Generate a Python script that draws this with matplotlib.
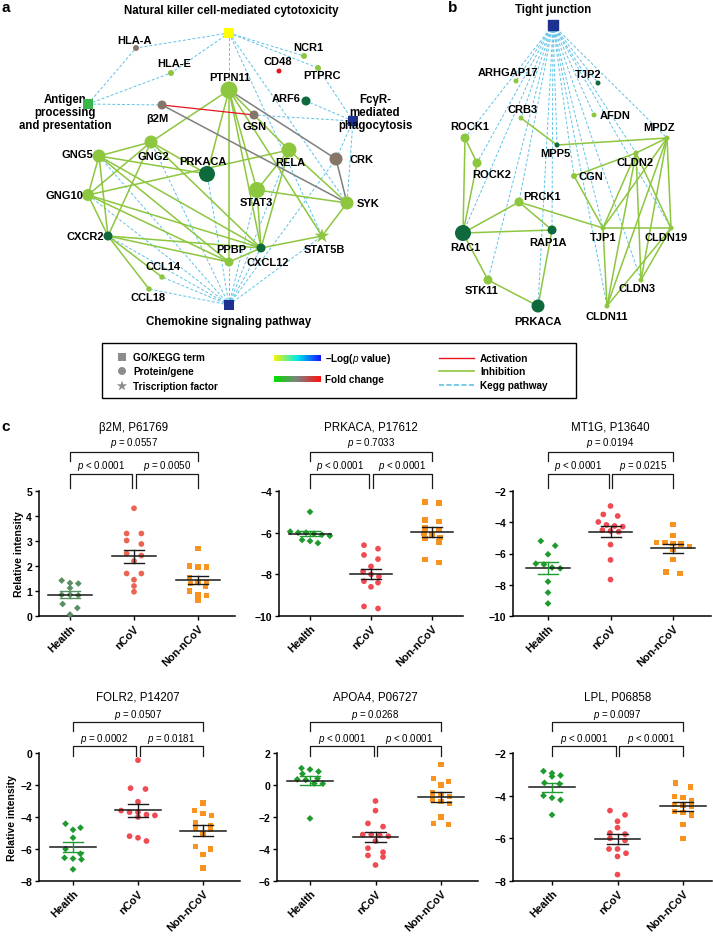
import numpy as np
import matplotlib
matplotlib.use('Agg')
import matplotlib.pyplot as plt
import matplotlib.transforms as mtransforms
from matplotlib.colors import LinearSegmentedColormap
from matplotlib.patches import Rectangle

plt.rcParams['font.family'] = ['Liberation Sans', 'DejaVu Sans']
plt.rcParams['mathtext.fontset'] = 'custom'
plt.rcParams['mathtext.it'] = 'Liberation Sans:italic'
plt.rcParams['mathtext.rm'] = 'Liberation Sans'

W, H = 713, 937

LIGHT = '#8dc63f'
DARK = '#0e6a3c'
BROWN = '#86766a'
RED = '#e8141c'
KEGG = '#5ec2e6'
NAVY = '#1c3190'

# ---------------- network a ----------------
a_terms = ['NK', 'Antigen', 'FcgR', 'Chemokine']
a_term_xy = {'NK': (229, 34), 'Antigen': (88, 105), 'FcgR': (353, 122), 'Chemokine': (229, 306)}
a_term_col = {'NK': '#ffff00', 'Antigen': '#39b54a', 'FcgR': NAVY, 'Chemokine': NAVY}

a_genes = ['HLA-A', 'HLA-E', 'NCR1', 'CD48', 'PTPRC', 'PTPN11', 'ARF6', 'β2M', 'GSN', 'CRK',
           'RELA', 'GNG2', 'GNG5', 'PRKACA', 'GNG10', 'STAT3', 'SYK', 'CXCR2', 'STAT5B',
           'CXCL12', 'PPBP', 'CCL14', 'CCL18']
a_xy = [(136, 49), (171, 74), (304, 57), (279, 72), (318, 69), (229, 91), (306, 102),
        (162, 106), (254, 116), (336, 160), (289, 151), (151, 143), (99, 157), (207, 175),
        (88, 196), (257, 191), (347, 204), (108, 237), (322, 237), (261, 249), (229, 263),
        (162, 278), (149, 290)]
a_size = [6, 6, 6, 5, 6, 17, 9, 9, 9, 13, 15, 13, 13, 16, 12, 16, 13, 9, 11, 9, 9, 5.5, 5.5]
a_kind = ['brown', 'light', 'light', 'red', 'light', 'light', 'dark', 'brown', 'brown', 'brown',
          'light', 'light', 'light', 'dark', 'light', 'light', 'light', 'dark', 'tf',
          'dark', 'light', 'light', 'light']
a_label_xy = [(135, 41), (174, 64), (308, 48), (278, 62), (322, 76), (230, 78), (286, 99),
              (157, 119), (255, 127), (361, 160), (290, 163), (153, 157), (77, 155),
              (203, 162), (64, 196), (256, 203), (368, 204), (85, 237), (324, 250),
              (268, 263), (231, 250), (163, 267), (148, 298)]

a_kegg = [('NK', 'HLA-A'), ('NK', 'HLA-E'), ('NK', 'NCR1'), ('NK', 'PTPRC'), ('NK', 'PTPN11'),
          ('NK', 'SYK'), ('NK', 'STAT5B'), ('Antigen', 'HLA-A'), ('Antigen', 'HLA-E'),
          ('Antigen', 'β2M'), ('FcgR', 'PTPRC'), ('FcgR', 'ARF6'), ('FcgR', 'GSN'),
          ('FcgR', 'CRK'), ('FcgR', 'SYK'),
          ('Chemokine', 'GNG5'), ('Chemokine', 'GNG2'), ('Chemokine', 'GNG10'),
          ('Chemokine', 'CXCR2'), ('Chemokine', 'CCL14'), ('Chemokine', 'CCL18'),
          ('Chemokine', 'PPBP'), ('Chemokine', 'CXCL12'), ('Chemokine', 'PRKACA'),
          ('Chemokine', 'STAT3'), ('Chemokine', 'RELA'), ('Chemokine', 'STAT5B'),
          ('Chemokine', 'CRK')]
a_inhib = [('PTPN11', 'GNG2'), ('PTPN11', 'PRKACA'), ('PTPN11', 'STAT3'), ('PTPN11', 'CXCL12'),
           ('PTPN11', 'STAT5B'), ('PTPN11', 'RELA'), ('PTPN11', 'PPBP'),
           ('GNG5', 'GNG2'), ('GNG5', 'GNG10'), ('GNG5', 'CXCR2'), ('GNG5', 'PRKACA'),
           ('GNG5', 'CXCL12'), ('GNG5', 'PPBP'), ('GNG2', 'GNG10'), ('GNG2', 'CXCR2'),
           ('GNG2', 'PRKACA'), ('GNG2', 'CXCL12'), ('GNG10', 'RELA'), ('GNG10', 'CXCL12'),
           ('GNG10', 'PPBP'), ('GNG10', 'CXCR2'), ('CXCR2', 'CCL14'), ('CXCR2', 'CCL18'),
           ('CXCR2', 'CXCL12'), ('CXCR2', 'PPBP'), ('RELA', 'STAT3'), ('RELA', 'SYK'),
           ('RELA', 'CXCL12'), ('STAT3', 'SYK'), ('STAT3', 'CXCL12'), ('SYK', 'STAT5B'),
           ('STAT5B', 'CXCL12'), ('PPBP', 'CXCL12')]
a_activ = [('β2M', 'GSN')]
a_other = [('β2M', 'SYK'), ('PTPN11', 'CRK'), ('CRK', 'SYK')]

# ---------------- network b ----------------
b_term_xy = (553, 26)
b_genes = ['ARHGAP17', 'TJP2', 'CRB3', 'AFDN', 'ROCK1', 'MPDZ', 'MPP5', 'CLDN2', 'ROCK2', 'CGN',
           'PRCK1', 'RAC1', 'RAP1A', 'TJP1', 'CLDN19', 'STK11', 'CLDN3', 'PRKACA', 'CLDN11']
b_xy = [(516, 82), (598, 84), (521, 119), (594, 116), (465, 139), (667, 139), (557, 146),
        (636, 154), (477, 164), (574, 177), (519, 203), (463, 234), (552, 231), (603, 229),
        (671, 229), (488, 281), (641, 281), (538, 307), (607, 307)]
b_size = [5, 5, 5, 5, 9, 5, 5, 5, 9, 6, 9, 16, 9, 5, 5, 9, 5, 13, 5]
b_kind = ['light', 'dark', 'light', 'light', 'light', 'light', 'dark', 'light', 'light', 'light',
          'light', 'dark', 'dark', 'light', 'light', 'light', 'light', 'dark', 'light']
b_label_xy = [(508, 73), (588, 75), (523, 110), (615, 116), (470, 127), (659, 128), (555, 154),
              (635, 163), (492, 175), (591, 177), (542, 197), (465, 248), (548, 243),
              (603, 238), (666, 238), (482, 291), (637, 289), (538, 322), (607, 317)]
b_inhib = [('ROCK1', 'ROCK2'), ('ROCK1', 'RAC1'), ('ROCK2', 'RAC1'), ('RAC1', 'PRCK1'),
           ('RAC1', 'RAP1A'), ('RAC1', 'STK11'), ('STK11', 'PRKACA'), ('PRKACA', 'RAP1A'),
           ('PRCK1', 'RAP1A'), ('PRCK1', 'TJP1'), ('CRB3', 'MPP5'), ('MPP5', 'MPDZ'),
           ('MPDZ', 'CLDN2'), ('CLDN2', 'CGN'), ('CGN', 'TJP1'), ('TJP1', 'CLDN19'),
           ('CLDN2', 'TJP1'), ('CLDN2', 'CLDN19'), ('CLDN2', 'CLDN3'), ('CLDN2', 'CLDN11'),
           ('MPDZ', 'CLDN19'), ('MPDZ', 'CLDN3'), ('MPDZ', 'CLDN11'), ('MPDZ', 'TJP1'),
           ('CLDN19', 'CLDN11'), ('CLDN19', 'CLDN3'), ('TJP1', 'CLDN11')]

# ---------------- panel c ----------------
groups = ['Health', 'nCoV', 'Non-nCoV']

b2m_health = [1.32, 1.42, 1.30, 1.12, 0.85, 0.85, 0.83, 0.48, 0.32, 0.06]
b2m_ncov = [4.31, 3.30, 3.30, 3.02, 2.88, 2.50, 2.42, 2.20, 1.70, 1.70, 1.45, 1.20, 0.97]
b2m_non = [2.69, 2.00, 1.96, 1.96, 1.55, 1.35, 1.30, 1.39, 1.19, 1.00, 0.84, 0.82, 0.62]

prkaca_health = [-5.0, -5.95, -6.0, -6.0, -6.05, -6.1, -6.15, -6.35, -6.4, -6.5]
prkaca_ncov = [-6.6, -6.77, -7.07, -7.27, -7.62, -7.87, -8.0, -8.1, -8.33, -8.4, -8.6, -9.54, -9.64]
prkaca_non = [-4.57, -4.52, -5.39, -5.47, -5.78, -5.85, -6.03, -6.1, -6.24, -6.29, -6.45, -7.3, -7.43]

mt1g_health = [-5.2, -5.5, -6.05, -6.65, -6.7, -6.9, -6.95, -7.8, -8.5, -9.2]
mt1g_ncov = [-2.96, -3.5, -3.6, -3.98, -4.17, -4.24, -4.28, -4.5, -4.56, -4.6, -5.43, -6.41, -7.67]
mt1g_non = [-4.13, -4.84, -5.3, -5.3, -5.37, -5.4, -5.55, -5.73, -6.37, -7.18, -7.29]

folr2_health = [-4.42, -4.67, -4.8, -5.3, -6.0, -6.3, -6.55, -6.6, -6.65, -7.27]
folr2_ncov = [-0.45, -2.2, -2.25, -3.05, -3.6, -3.7, -3.7, -3.85, -3.9, -4.0, -5.2, -5.3, -5.5]
folr2_non = [-3.13, -3.58, -3.79, -3.9, -4.35, -4.52, -4.69, -4.77, -5.04, -5.85, -6.0, -6.35, -7.19]

apoa4_health = [1.05, 0.97, 0.84, 0.7, 0.4, 0.35, 0.32, 0.1, 0.08, -2.09]
apoa4_ncov = [-1.0, -1.6, -2.4, -2.6, -3.1, -3.1, -3.15, -3.2, -3.5, -3.95, -4.2, -4.4, -4.5, -5.0]
apoa4_non = [1.3, 0.4, 0.2, 0.0, -0.5, -0.6, -0.7, -0.9, -1.05, -1.15, -2.0, -2.4, -2.45]

lpl_health = [-2.85, -2.95, -3.05, -3.1, -3.4, -3.45, -4.0, -4.1, -4.2, -4.9]
lpl_ncov = [-4.7, -4.9, -5.2, -5.5, -5.75, -5.8, -6.0, -6.1, -6.5, -6.5, -6.7, -6.85, -7.7]
lpl_non = [-3.4, -3.6, -4.05, -4.1, -4.25, -4.4, -4.45, -4.5, -4.75, -4.8, -4.9, -5.35, -6.0]

titles = ['β2M, P61769', 'PRKACA, P17612', 'MT1G, P13640',
          'FOLR2, P14207', 'APOA4, P06727', 'LPL, P06858']
series = [(b2m_health, b2m_ncov, b2m_non), (prkaca_health, prkaca_ncov, prkaca_non),
          (mt1g_health, mt1g_ncov, mt1g_non), (folr2_health, folr2_ncov, folr2_non),
          (apoa4_health, apoa4_ncov, apoa4_non), (lpl_health, lpl_ncov, lpl_non)]
yticks = [np.arange(0, 6, 1), np.arange(-10, -3, 2), np.arange(-10, -1, 2),
          np.arange(-8, 1, 2), np.arange(-6, 3, 2), np.arange(-8, -1, 2)]
pvals = [('< 0.0001', '= 0.0050', '= 0.0557'), ('< 0.0001', '< 0.0001', '= 0.7033'),
         ('< 0.0001', '= 0.0215', '= 0.0194'), ('= 0.0002', '= 0.0181', '= 0.0507'),
         ('< 0.0001', '< 0.0001', '= 0.0268'), ('< 0.0001', '< 0.0001', '= 0.0097')]

# layout (pixels): axes left, right, first group centre, group spacing
boxes = [(39, 235, 70, 64), (279, 463, 310, 61), (513, 711, 548, 62.5),
         (39, 240, 73, 65), (277, 478, 310, 65.5), (513, 712, 552, 65.5)]
rows_px = [(492, 617), (754, 882)]
# offsets above axis top: title, top p, top bar, top legs, low p, low bar, low legs
row_off = [(64, 49, 39, 30, 26, 17, 3), (56, 39, 31, 22, 15, 7, -3)]


def node_color(kind):
    return {'light': LIGHT, 'dark': DARK, 'brown': BROWN, 'red': RED, 'tf': LIGHT}[kind]


def px_to_s(d):
    return (d * 0.72) ** 2


def swarm(vals, thresh, step=0.13):
    vals = np.asarray(vals, dtype=float)
    order = np.argsort(-vals)
    x = np.zeros(len(vals))
    rows, cur = [], [order[0]]
    for i in order[1:]:
        if abs(vals[cur[0]] - vals[i]) < thresh:
            cur.append(i)
        else:
            rows.append(cur)
            cur = [i]
    rows.append(cur)
    for r in rows:
        n = len(r)
        st = 0.23 if n == 2 else step
        for k, idx in enumerate(r):
            x[idx] = (k - (n - 1) / 2) * st
    return x


fig = plt.figure(figsize=(W / 100, H / 100), dpi=100)
ax0 = fig.add_axes([0, 0, 1, 1])
ax0.set_xlim(0, W)
ax0.set_ylim(H, 0)
ax0.axis('off')

lbl = dict(fontsize=8, fontweight='bold', ha='center', va='center', zorder=10)


def draw_edges(pos, edges, color, lw, ls='-', z=2):
    for u, v in edges:
        (x1, y1), (x2, y2) = pos[u], pos[v]
        ax0.plot([x1, x2], [y1, y2], color=color, lw=lw, ls=ls, zorder=z)


# network a
pos_a = dict(zip(a_genes, a_xy))
pos_a.update(a_term_xy)
draw_edges(pos_a, a_kegg, KEGG, 0.7, ls=(0, (3, 2)), z=1)
draw_edges(pos_a, a_inhib, LIGHT, 1.1)
draw_edges(pos_a, a_other, '#7f7f7f', 1.1)
draw_edges(pos_a, a_activ, RED, 0.9)
for g, (x, y), d, k in zip(a_genes, a_xy, a_size, a_kind):
    m = '*' if k == 'tf' else 'o'
    s = px_to_s(d * (1.4 if k == 'tf' else 1.0))
    ax0.scatter([x], [y], s=s, marker=m, color=node_color(k), edgecolors='none', zorder=5)
for g, (lx, ly) in zip(a_genes, a_label_xy):
    ax0.text(lx, ly, g, **lbl)
for t in a_terms:
    x, y = a_term_xy[t]
    ax0.scatter([x], [y], s=px_to_s(10), marker='s', color=a_term_col[t], edgecolors='none', zorder=5)
ax0.text(231, 11, 'Natural killer cell-mediated cytotoxicity', fontsize=8.3, fontweight='bold',
         ha='center', va='center')
ax0.text(65, 113, 'Antigen\nprocessing\nand presentation', fontsize=8.3, fontweight='bold',
         ha='center', va='center', linespacing=1.15, multialignment='center')
ax0.text(375, 113, 'FcγR-\nmediated\nphagocytosis', fontsize=8.3, fontweight='bold',
         ha='center', va='center', linespacing=1.15, multialignment='center', zorder=10)
ax0.text(229, 322, 'Chemokine signaling pathway', fontsize=8.3, fontweight='bold',
         ha='center', va='center')

# network b
pos_b = dict(zip(b_genes, b_xy))
for (x, y) in b_xy:
    ax0.plot([b_term_xy[0], x], [b_term_xy[1], y], color=KEGG, lw=0.7, ls=(0, (3, 2)), zorder=1)
draw_edges(pos_b, b_inhib, LIGHT, 1.1)
for g, (x, y), d, k in zip(b_genes, b_xy, b_size, b_kind):
    ax0.scatter([x], [y], s=px_to_s(d), marker='o', color=node_color(k), edgecolors='none', zorder=5)
for g, (lx, ly) in zip(b_genes, b_label_xy):
    ax0.text(lx, ly, g, **lbl)
ax0.scatter([b_term_xy[0]], [b_term_xy[1]], s=px_to_s(10), marker='s', color=NAVY, zorder=5)
ax0.text(553, 10, 'Tight junction', fontsize=8.3, fontweight='bold', ha='center', va='center')

# panel letters
for ch, (x, y) in zip('abc', [(6, 8), (453, 8), (6, 427)]):
    ax0.text(x, y, ch, fontsize=11, fontweight='bold', ha='center', va='center')

# legend box
ax0.add_patch(Rectangle((102, 344), 474, 55, fill=False, ec='black', lw=1.0, zorder=3))
leg = dict(fontsize=7.2, fontweight='bold', ha='left', va='center')
grey = '#8c8c8c'
ax0.scatter([122], [358], s=px_to_s(8), marker='s', color=grey, edgecolors='none')
ax0.scatter([122], [372], s=px_to_s(8), marker='o', color=grey, edgecolors='none')
ax0.scatter([122], [387], s=px_to_s(11), marker='*', color=grey, edgecolors='none')
ax0.text(133, 358, 'GO/KEGG term', **leg)
ax0.text(133, 372, 'Protein/gene', **leg)
ax0.text(133, 387, 'Triscription factor', **leg)
cm1 = LinearSegmentedColormap.from_list('p', ['#f5f500', '#00e8f0', '#1515ff'])
cm2 = LinearSegmentedColormap.from_list('fc', ['#00e000', '#808080', '#ff1010'])
grad = np.linspace(0, 1, 100)[None, :]
ax0.imshow(grad, cmap=cm1, extent=(274, 321, 362, 356), aspect='auto', zorder=3)
ax0.imshow(grad, cmap=cm2, extent=(274, 321, 383, 377), aspect='auto', zorder=3)
ax0.text(325, 359, r'–Log($p$ value)', **leg)
ax0.text(325, 380, 'Fold change', **leg)
ax0.plot([439, 474], [359, 359], color=RED, lw=1.0)
ax0.plot([439, 474], [372, 372], color=LIGHT, lw=1.2)
ax0.plot([439, 474], [386, 386], color=KEGG, lw=1.2, ls=(0, (3, 1.5)))
ax0.text(480, 359, 'Activation', **leg)
ax0.text(480, 372, 'Inhibition', **leg)
ax0.text(480, 386, 'Kegg pathway', **leg)
ax0.set_xlim(0, W)
ax0.set_ylim(H, 0)

# panel c scatter plots
colors = [('#5a8f63', '#ea6452', '#f7931e')] + [('#1f9a2f', '#f04a52', '#f7931e')] * 5
markers = ['D', 'o', 's']
msizes = [12, 17, 15]

for i, (title, data, ytk, pv, box) in enumerate(zip(titles, series, yticks, pvals, boxes)):
    row = i // 3
    top, bot = rows_px[row]
    left, right, g0, sp = box
    ax = fig.add_axes([left / W, 1 - bot / H, (right - left) / W, (bot - top) / H])
    ax.set_xlim((left - g0) / sp, (right - g0) / sp)
    ax.set_ylim(ytk[0], ytk[-1])
    yr = ytk[-1] - ytk[0]
    for j, vals in enumerate(data):
        xo = swarm(vals, thresh=0.04 * yr)
        ax.scatter(j + xo, vals, s=msizes[j], marker=markers[j], color=colors[i][j],
                   edgecolors='none', zorder=3, clip_on=False)
        m = np.mean(vals)
        se = np.std(vals, ddof=1) / np.sqrt(len(vals))
        ec = colors[i][0] if j == 0 else '#1a1a1a'
        ax.plot([j - 0.35, j + 0.35], [m, m], color='#1a1a1a', lw=1.1, zorder=4)
        ax.plot([j, j], [m - se, m + se], color=ec, lw=1.0, zorder=4)
        for yy in (m - se, m + se):
            ax.plot([j - 0.16, j + 0.16], [yy, yy], color=ec, lw=1.0, zorder=4)
    for side in ('top', 'right'):
        ax.spines[side].set_visible(False)
    for side in ('left', 'bottom'):
        ax.spines[side].set_linewidth(1.1)
    ax.set_yticks(ytk)
    ax.set_yticklabels([f'{v:d}'.replace('-', '−') for v in ytk], fontsize=7.5, fontweight='bold')
    ax.set_xticks([0, 1, 2])
    ax.set_xticklabels(groups, rotation=45, ha='right', rotation_mode='anchor',
                       fontsize=7.8, fontweight='bold')
    ax.tick_params(length=3, width=1, pad=2)
    if i % 3 == 0:
        ax.set_ylabel('Relative intensity', fontsize=7.5, fontweight='bold', labelpad=2)

    h = bot - top
    o_title, o_pt, o_bt, o_lt, o_pl, o_bl, o_ll = row_off[row]
    fy = lambda d: 1 + d / h
    tr = mtransforms.blended_transform_factory(ax.transData, ax.transAxes)
    ax.text(1, fy(o_title), title, transform=tr, fontsize=8.3, ha='center', va='center')
    ax.text(1, fy(o_pt), r'$p$ ' + pv[2], transform=tr, fontsize=7, ha='center', va='center')
    ax.plot([0, 0, 2, 2], [fy(o_lt), fy(o_bt), fy(o_bt), fy(o_lt)], transform=tr,
            color='#1a1a1a', lw=0.9, clip_on=False)
    for (xa, xb), p in zip([(0, 0.97), (1.03, 2)], pv[:2]):
        ax.plot([xa, xa, xb, xb], [fy(o_ll), fy(o_bl), fy(o_bl), fy(o_ll)], transform=tr,
                color='#1a1a1a', lw=0.9, clip_on=False)
        ax.text((xa + xb) / 2, fy(o_pl), r'$p$ ' + p, transform=tr, fontsize=7,
                ha='center', va='center')

fig.savefig('out.png', dpi=100)
